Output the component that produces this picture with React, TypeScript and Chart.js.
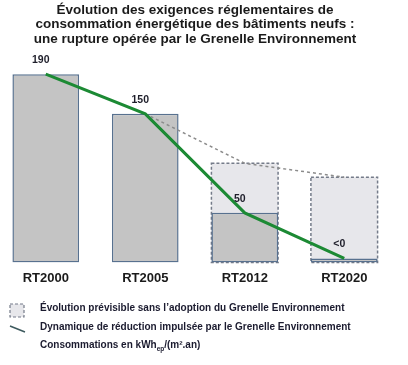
import { useEffect, useRef } from 'react';
import { Chart, registerables } from 'chart.js';

Chart.register(...registerables);

const categories = ['RT2000', 'RT2005', 'RT2012', 'RT2020'];
const consumption = [190, 150, 50, 4];
const withoutGrenelle = [null, null, 100, 86];
const trendWithoutGrenelle = [null, 150, 100, 86];
const grenelleTrend = [190, 150, 50, 4];
const valueLabels = ['190', '150', '50', '<0'];
const titleLines = [
  'Évolution des exigences réglementaires de',
  'consommation énergétique des bâtiments neufs :',
  'une rupture opérée par le Grenelle Environnement',
];
const legendLabels = [
  'Évolution prévisible sans l\u2019adoption du Grenelle Environnement',
  'Dynamique de réduction impulsée par le Grenelle Environnement',
];
const unitMain = 'Consommations en kWh';
const unitSub = 'ep';
const unitTail = '/(m².an)';

const FONT = '"Liberation Sans", Arial, sans-serif';
const SHIFT = 4; // canvas is shifted 4px to the left of the page

const dashedBorderPlugin = {
  id: 'dashedBorder',
  afterDatasetDraw(chart: any, args: any) {
    const ds: any = chart.data.datasets[args.index];
    if (!ds.dashedBorder) return;
    const ctx = chart.ctx;
    ctx.save();
    ctx.setLineDash([3, 2]);
    ctx.lineWidth = 1.5;
    ctx.strokeStyle = '#747b89';
    args.meta.data.forEach((el: any, i: number) => {
      if (ds.data[i] == null) return;
      const { x, y, base, width } = el.getProps(['x', 'y', 'base', 'width'], true);
      ctx.strokeRect(x - width / 2, y, width, base - y);
    });
    ctx.restore();
  },
};

const valueLabelPlugin = {
  id: 'valueLabels',
  afterDatasetsDraw(chart: any) {
    const meta = chart.getDatasetMeta(0);
    const ctx = chart.ctx;
    ctx.save();
    ctx.font = `bold 10.5px ${FONT}`;
    ctx.fillStyle = '#1e1e2a';
    ctx.textAlign = 'center';
    ctx.textBaseline = 'middle';
    meta.data.forEach((pt: any, i: number) => {
      ctx.fillText(valueLabels[i], pt.x - 5, pt.y - 14);
    });
    ctx.restore();
  },
};

const legendPlugin = {
  id: 'customLegend',
  afterDraw(chart: any) {
    const ctx = chart.ctx;
    ctx.save();
    // dashed box icon
    ctx.fillStyle = '#e7e7eb';
    ctx.fillRect(10 + SHIFT, 304, 14, 13);
    ctx.setLineDash([3, 2]);
    ctx.lineWidth = 1.2;
    ctx.strokeStyle = '#747b89';
    ctx.strokeRect(10 + SHIFT, 304, 14, 13);
    ctx.setLineDash([]);
    // line icon
    ctx.strokeStyle = '#3d5a5e';
    ctx.lineWidth = 1.5;
    ctx.beginPath();
    ctx.moveTo(10 + SHIFT, 326);
    ctx.lineTo(25 + SHIFT, 332);
    ctx.stroke();
    // texts
    ctx.fillStyle = '#1b1b2f';
    ctx.textAlign = 'left';
    ctx.textBaseline = 'middle';
    ctx.font = `bold 10px ${FONT}`;
    ctx.fillText(legendLabels[0], 40 + SHIFT, 308);
    ctx.fillText(legendLabels[1], 40 + SHIFT, 327);
    let x = 40 + SHIFT;
    ctx.fillText(unitMain, x, 345);
    x += ctx.measureText(unitMain).width;
    ctx.font = `bold 6.5px ${FONT}`;
    ctx.fillText(unitSub, x, 349);
    x += ctx.measureText(unitSub).width;
    ctx.font = `bold 10px ${FONT}`;
    ctx.fillText(unitTail, x, 345);
    ctx.restore();
  },
};

export default function App() {
  const ref = useRef<HTMLCanvasElement | null>(null);
  useEffect(() => {
    if (!ref.current) return;
    const chart = new Chart(ref.current, {
      type: 'bar',
      data: {
        labels: categories,
        datasets: [
          {
            type: 'line',
            data: grenelleTrend,
            borderColor: '#1c8a34',
            borderWidth: 3,
            pointRadius: 0,
            tension: 0,
            order: 0,
          } as any,
          {
            type: 'line',
            data: trendWithoutGrenelle,
            borderColor: '#8c8c8c',
            borderWidth: 1.5,
            borderDash: [3, 3],
            pointRadius: 0,
            tension: 0,
            order: 1,
          } as any,
          {
            type: 'bar',
            data: consumption,
            backgroundColor: '#c4c4c4',
            borderColor: '#58718f',
            borderWidth: 1.5,
            borderSkipped: false,
            grouped: false,
            barPercentage: 0.67,
            categoryPercentage: 1,
            order: 2,
          } as any,
          {
            type: 'bar',
            data: withoutGrenelle,
            backgroundColor: '#e7e7eb',
            borderWidth: 0,
            grouped: false,
            barPercentage: 0.67,
            categoryPercentage: 1,
            order: 3,
            dashedBorder: true,
          } as any,
        ],
      },
      options: {
        responsive: false,
        animation: false,
        devicePixelRatio: 1,
        layout: { padding: { top: 0, left: 0, right: 14, bottom: 71 } },
        scales: {
          x: {
            grid: { display: false, drawTicks: false },
            border: { display: false },
            ticks: {
              color: '#1a1a1a',
              padding: 8,
              font: { family: FONT, size: 13, weight: 'bold' },
            },
          },
          y: { display: false, min: 0, max: 204 },
        },
        plugins: {
          legend: { display: false },
          tooltip: { enabled: false },
          title: {
            display: true,
            text: titleLines,
            color: '#1a1a1a',
            font: { family: FONT, size: 13.5, weight: 'bold', lineHeight: 1.07 },
            padding: { top: 3, bottom: 14 },
          },
        },
      },
      plugins: [dashedBorderPlugin, valueLabelPlugin, legendPlugin],
    } as any);
    return () => chart.destroy();
  }, []);
  return (
    <div style={{ height: 365 }}>
      <canvas
        ref={ref}
        width={412}
        height={365}
        style={{ position: 'fixed', left: -SHIFT, top: 0, width: 412, height: 365, background: '#fff' }}
      />
    </div>
  );
}
